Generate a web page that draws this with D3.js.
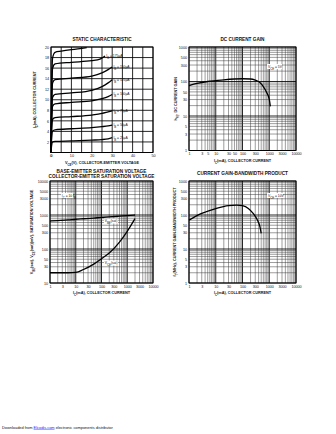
<!DOCTYPE html>
<html><head><meta charset="utf-8">
<script src="https://cdn.jsdelivr.net/npm/d3@7"></script>
<style>
body{margin:0;background:#fff}
svg{display:block}
text{font-family:"Liberation Sans",Arial,sans-serif;fill:#111}
</style>
</head><body>
<svg id="c" width="336" height="434"></svg>
<script>
// ---------- DATA ----------
// Static characteristic: [VCE (V), IC (mA)] per base current
const ibLabels = ["", "175µA", "150µA", "125µA", "100µA", "75µA", "50µA", "25µA"];
const ib200 = [[0,0],[0.3,11],[0.8,18],[2,19],[5,19.2],[10,19.5],[17.5,19.9]];
const ib175 = [[0,0],[0.3,10],[0.8,16],[2,16.8],[10,17.1],[20,17.4],[24,17.7],[26.5,18.3]];
const ib150 = [[0,0],[0.3,8.5],[0.8,13.2],[2,13.8],[10,14.1],[20,14.5],[25,15.1],[28,15.7],[30,16.2]];
const ib125 = [[0,0],[0.3,6.8],[0.8,10.5],[2,11.0],[10,11.3],[20,11.8],[25,12.5],[28,13.2],[30,13.8]];
const ib100 = [[0,0],[0.3,5.6],[0.8,8.8],[2,9.2],[10,9.5],[20,9.8],[25,10.2],[28,10.6],[30,11.0]];
const ib75  = [[0,0],[0.3,4.0],[0.8,6.3],[2,6.6],[10,6.8],[20,7.1],[25,7.4],[28,7.7],[30,7.9]];
const ib50  = [[0,0],[0.3,2.6],[0.8,4.1],[2,4.3],[10,4.5],[20,4.7],[25,4.9],[28,5.05],[30,5.2]];
const ib25  = [[0,0],[0.3,1.3],[0.8,2.0],[2,2.1],[10,2.2],[20,2.35],[25,2.45],[28,2.6],[30,2.8]];
const staticXTicks = [0,10,20,30,40,50];
const staticYTicks = [2,4,6,8,10,12,14,16,18,20];

// DC current gain
const hfeIc = [1,2,5,10,20,50,100,200,300,400,500,600,800,1000,1100];
const hfe   = [76,88,100,106,112,118,120,118,110,100,85,71,48,31,19];
const hfeXTicks = [1,3,5,10,30,50,100,300,1000,3000,10000];
const hfeYTicks = [1,3,5,10,30,50,100,300,500,1000];

// Saturation voltages (mV)
const satIc  = [1,2,5,10,20,50,100,200,500,1000,2000];
const vbeSat = [664,685,715,750,775,810,850,880,925,960,1000];
const vceSat = [20,20,20,20.5,25,36,52,76,160,330,780];
const satXTicks = [1,3,10,30,100,300,1000,3000,10000];
const satYTicks = [10,30,50,100,300,500,1000,3000,5000,10000];

// Current gain-bandwidth product (MHz)
const ftIc = [1,3,10,30,60,100,165,250,360,450,500];
const ft   = [71,111,155,190,196,188,156,111,71,45,29];
const ftXTicks = [1,3,10,30,100,300,1000,3000,10000];
const ftYTicks = [1,3,5,10,30,50,100,300,500,1000];

// ---------- DRAW ----------
const svg = d3.select("#c");
const FS = 3.7;

function logGrid(dom){
  const out=[];
  const a=Math.round(Math.log10(dom[0])), b=Math.round(Math.log10(dom[1]));
  for(let d=a; d<b; d++) for(let k=1;k<=9;k++) out.push({v:k*Math.pow(10,d), major:k===1});
  out.push({v:Math.pow(10,b), major:true});
  return out;
}

function panel(o){
  const g = svg.append("g");
  const xs = (o.log? d3.scaleLog(): d3.scaleLinear()).domain(o.xd).range([o.x0,o.x1]);
  const ys = (o.log? d3.scaleLog(): d3.scaleLinear()).domain(o.yd).range([o.y1,o.y0]);
  const xg = o.log? logGrid(o.xd) : d3.range(o.xd[0], o.xd[1]+0.001, o.xstep).map(v=>({v,major:true}));
  const yg = o.log? logGrid(o.yd) : d3.range(o.yd[0], o.yd[1]+0.001, o.ystep).map(v=>({v,major:true}));
  g.selectAll(".vx").data(xg).enter().append("line")
    .attr("x1",d=>xs(d.v)).attr("x2",d=>xs(d.v)).attr("y1",o.y0).attr("y2",o.y1)
    .attr("stroke",d=>d.major?"#000":"#3a3a3a").attr("stroke-width",d=>d.major?0.85:0.5);
  g.selectAll(".hy").data(yg).enter().append("line")
    .attr("y1",d=>ys(d.v)).attr("y2",d=>ys(d.v)).attr("x1",o.x0).attr("x2",o.x1)
    .attr("stroke",d=>d.major?"#000":"#3a3a3a").attr("stroke-width",d=>d.major?0.85:0.5);
  g.append("rect").attr("x",o.x0).attr("y",o.y0).attr("width",o.x1-o.x0).attr("height",o.y1-o.y0)
    .attr("fill","none").attr("stroke","#000").attr("stroke-width",0.9);
  const ax = g.append("g").attr("transform",`translate(0,${o.y1})`)
    .call(d3.axisBottom(xs).tickValues(o.xt).tickSize(0).tickPadding(2.2).tickFormat(d=>d));
  const ay = g.append("g").attr("transform",`translate(${o.x0},0)`)
    .call(d3.axisLeft(ys).tickValues(o.yt).tickSize(0).tickPadding(2).tickFormat(d=>d));
  [ax,ay].forEach(a=>{a.select(".domain").remove(); a.selectAll("text").attr("font-size",FS).attr("font-family","Liberation Sans, Arial").attr("fill","#111");});
  // titles
  o.title.forEach((t,i)=>g.append("text").attr("x",(o.x0+o.x1)/2).attr("y",o.ty+i*5.6)
    .attr("text-anchor","middle").attr("font-size",4.7).attr("font-weight","bold").text(t));
  g.append("text").attr("x",(o.x0+o.x1)/2).attr("y",o.y1+11).attr("text-anchor","middle")
    .attr("font-size",3.8).attr("font-weight","bold").html(o.xtitle);
  g.append("text").attr("transform",`translate(${o.ytx},${(o.y0+o.y1)/2}) rotate(-90)`)
    .attr("text-anchor","middle").attr("font-size",3.8).attr("font-weight","bold").html(o.ytitle);
  return {g,xs,ys};
}
const sub = s=>`<tspan baseline-shift="sub" font-size="2.8">${s}</tspan>`;
const lineStyle = p=>p.attr("fill","none").attr("stroke","#000").attr("stroke-width",1.3).attr("stroke-linejoin","round");

// Panel 1
const p1 = panel({x0:51,x1:153,y0:47,y1:152.5,xd:[0,50],yd:[0,20],xstep:5,ystep:2,log:false,
  xt:staticXTicks,yt:staticYTicks.concat([0]).filter(d=>d>0).concat([]),
  title:["STATIC CHARACTERISTIC"],ty:41,ytx:36,
  xtitle:`V${sub("CE")}(V), COLLECTOR-EMITTER VOLTAGE`,ytitle:`I${sub("C")}(mA), COLLECTOR CURRENT`});
p1.g.append("text").attr("x",51).attr("y",157.2).attr("text-anchor","middle").attr("font-size",FS).text("0");
const curves = [ib200,ib175,ib150,ib125,ib100,ib75,ib50,ib25];
const l1 = d3.line().x(d=>p1.xs(d[0])).y(d=>p1.ys(d[1])).curve(d3.curveMonotoneX);
curves.forEach((c,i)=>{
  lineStyle(p1.g.append("path").datum(c).attr("d",l1));
  if(ibLabels[i]){
    const e=c[c.length-1];
    p1.g.append("text").attr("x",p1.xs(e[0])+1.2).attr("y",p1.ys(e[1])+0.8)
      .attr("font-size",3.3).html(`I${sub("B")} = ${ibLabels[i]}`);
  }
});

// Panel 2
const p2 = panel({x0:189,x1:296,y0:47,y1:150.5,xd:[1,10000],yd:[1,1000],log:true,
  xt:hfeXTicks,yt:hfeYTicks,title:["DC CURRENT GAIN"],ty:41,ytx:177,
  xtitle:`I${sub("C")}(mA), COLLECTOR CURRENT`,ytitle:`h${sub("FE")}, DC CURRENT GAIN`});
const l2 = d3.line().x(d=>p2.xs(d[0])).y(d=>p2.ys(d[1])).curve(d3.curveMonotoneX);
lineStyle(p2.g.append("path").datum(hfeIc.map((v,i)=>[v,hfe[i]])).attr("d",l2));
p2.g.append("rect").attr("x",267).attr("y",64).attr("width",15).attr("height",5).attr("fill","#fff");
p2.g.append("text").attr("x",268).attr("y",67.8).attr("font-size",3.3).html(`V${sub("CE")} = 5V`);

// Panel 3
const p3 = panel({x0:50,x1:153,y0:181,y1:283,xd:[1,10000],yd:[10,10000],log:true,
  xt:satXTicks,yt:satYTicks,title:["BASE-EMITTER SATURATION VOLTAGE","COLLECTOR-EMITTER SATURATION VOLTAGE"],ty:172.5,ytx:33,
  xtitle:`I${sub("C")}(mA), COLLECTOR CURRENT`,ytitle:`V${sub("BE")}(sat), V${sub("CE")}(sat)(mV), SATURATION VOLTAGE`});
const l3 = d3.line().x(d=>p3.xs(d[0])).y(d=>p3.ys(d[1])).curve(d3.curveMonotoneX);
lineStyle(p3.g.append("path").datum(satIc.map((v,i)=>[v,vbeSat[i]])).attr("d",l3));
lineStyle(p3.g.append("path").datum(satIc.map((v,i)=>[v,vceSat[i]])).attr("d",l3));
[[61,193,12,5,`I${sub("C")} = 10 I${sub("B")}`],[104,218.5,14,5,`V${sub("BE")}(sat)`],[104,260.5,14,5,`V${sub("CE")}(sat)`]].forEach(t=>{
  p3.g.append("rect").attr("x",t[0]).attr("y",t[1]).attr("width",t[2]).attr("height",t[3]).attr("fill","#fff");
  p3.g.append("text").attr("x",t[0]+0.8).attr("y",t[1]+3.6).attr("font-size",3.3).html(t[4]);
});

// Panel 4
const p4 = panel({x0:189,x1:296,y0:181,y1:283,xd:[1,10000],yd:[1,1000],log:true,
  xt:ftXTicks,yt:ftYTicks,title:["CURRENT GAIN-BANDWIDTH PRODUCT"],ty:175,ytx:176,
  xtitle:`I${sub("C")}(mA), COLLECTOR CURRENT`,ytitle:`f${sub("T")}(MHz), CURRENT GAIN-BANDWIDTH PRODUCT`});
const l4 = d3.line().x(d=>p4.xs(d[0])).y(d=>p4.ys(d[1])).curve(d3.curveMonotoneX);
lineStyle(p4.g.append("path").datum(ftIc.map((v,i)=>[v,ft[i]])).attr("d",l4));
p4.g.append("rect").attr("x",267).attr("y",193).attr("width",16).attr("height",5).attr("fill","#fff");
p4.g.append("text").attr("x",268).attr("y",196.8).attr("font-size",3.3).html(`V${sub("CE")} = 10V`);

// Footer
const ft0 = svg.append("text").attr("x",2).attr("y",428.5).attr("font-size",3.9).attr("fill","#222");
ft0.append("tspan").text("Downloaded from ");
ft0.append("tspan").attr("fill","#1a1aff").attr("text-decoration","underline").text("Elcodis.com");
ft0.append("tspan").text(" electronic components distributor");
</script>
</body></html>
